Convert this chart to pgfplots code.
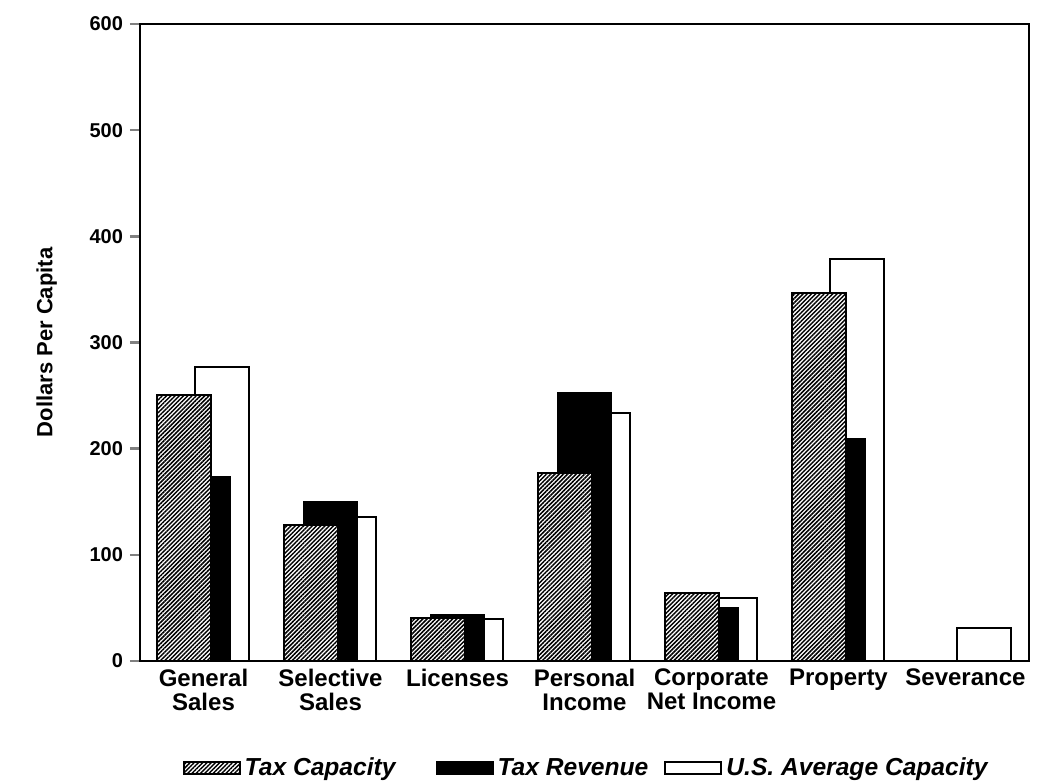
\documentclass[border=0pt]{standalone}
\usepackage{fontspec}
\setmainfont{Liberation Sans}
\usepackage{pgfplots}
\pgfplotsset{compat=1.18}
\usetikzlibrary{patterns.meta}
\tikzset{hatch/.style={pattern={Lines[angle=45,distance=1.5pt,line width=0.75pt]}}}
\begin{document}
\begin{tikzpicture}
\begin{axis}[
  name=ax,
  width=444.5pt, height=318.5pt, scale only axis,
  xmin=-0.5, xmax=6.5, ymin=0, ymax=600,
  axis line style={line width=1.3pt},
  ytick={0,100,...,600},
  ytick pos=left, tick align=outside,
  major tick length=5pt,
  ytick style={line width=1.3pt},
  /pgf/number format/assume math mode=true,
  yticklabel style={font=\bfseries\fontsize{10}{12}\selectfont},
  xtick={0,...,6},
  xticklabels={General\\Sales, Selective\\Sales, Licenses, Personal\\Income, Corporate\\Net Income, Property, Severance},
  xticklabel style={align=center, font=\bfseries\fontsize{12}{12}\selectfont, anchor=north, yshift=4.5pt},
  xtick style={draw=none},
  ylabel={Dollars Per Capita},
  every axis y label/.style={at={(axis description cs:-0.105,0.5)}, rotate=90, anchor=center,
    font=\bfseries\fontsize{11}{13}\selectfont},
  ybar, bar width=0.425,
  legend image code/.code={\draw[line width=1pt,#1] (0pt,-3pt) rectangle (28pt,3pt);},
  legend columns=3,
  legend style={draw=none, at={(0.503,-0.168)}, anchor=center,
    font=\bfseries\itshape\fontsize{12.3}{14}\selectfont,
    nodes={text depth=0.25ex, text height=1.6ex},
    /tikz/column 2/.style={column sep=18pt},
    /tikz/column 4/.style={column sep=6pt}},
]
% U.S. Average Capacity (behind)
\addplot[fill=white, draw=black, line width=1pt, bar shift=0.145, forget plot] coordinates {
  (0,277) (1,136) (2,39.5) (3,234) (4,59) (5,379) (6,31)};
% Tax Revenue
\addplot[fill=black, draw=black, line width=1pt, bar shift=0, forget plot] coordinates {
  (0,173) (1,150) (2,43) (3,252) (4,50) (5,209)};
% Tax Capacity (front)
\addplot[fill=white, draw=none, bar shift=-0.15, forget plot] coordinates {
  (0,250.5) (1,128) (2,40.5) (3,177) (4,64) (5,347)};
\addplot[hatch, draw=black, line width=1pt, bar shift=-0.15, forget plot] coordinates {
  (0,250.5) (1,128) (2,40.5) (3,177) (4,64) (5,347)};
\addlegendimage{hatch, draw=black}
\addlegendentry{Tax Capacity}
\addlegendimage{fill=black, draw=black}
\addlegendentry{Tax Revenue}
\addlegendimage{fill=white, draw=black}
\addlegendentry{U.S. Average Capacity}
\end{axis}
\pgfresetboundingbox
\path[use as bounding box] ([shift={(-70pt,-61pt)}]ax.south west) rectangle ([shift={(5pt,12pt)}]ax.north east);
\end{tikzpicture}
\end{document}
